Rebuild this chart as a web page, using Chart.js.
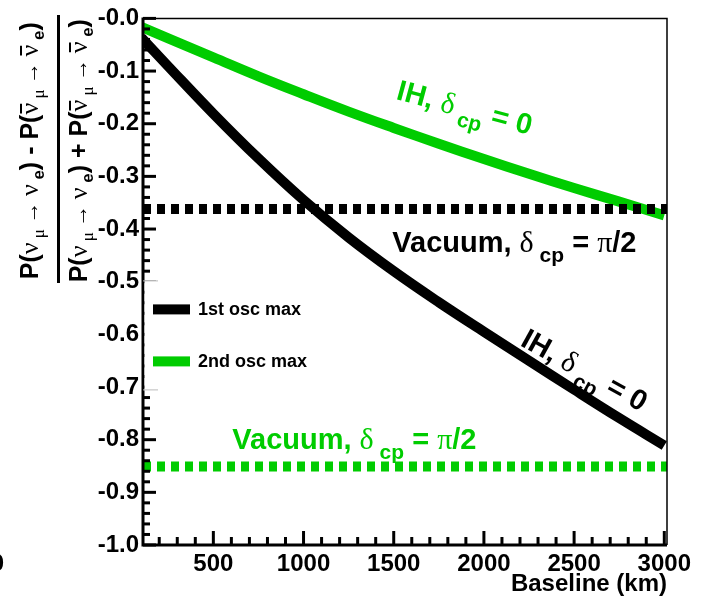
<!DOCTYPE html>
<html>
<head>
<meta charset="utf-8">
<script src="https://cdn.jsdelivr.net/npm/chart.js@4.4.0/dist/chart.umd.min.js"></script>
<style>
  html, body { margin: 0; padding: 0; background: #fff; }
  #wrap { width: 710px; height: 599px; position: relative; }
</style>
</head>
<body>
<div id="wrap"><canvas id="asymChart" width="710" height="599"></canvas></div>
<script>
// Datos (asimetría CP vs distancia)
const baselineKm = [100, 250, 500, 750, 1000, 1250, 1500, 1750, 2000, 2250, 2500, 2750, 3000];
const firstOscIH = [-0.036, -0.091, -0.181, -0.266, -0.345, -0.416, -0.480, -0.539, -0.595, -0.650, -0.705, -0.759, -0.811];
const secondOscIH = [-0.016, -0.038, -0.074, -0.110, -0.144, -0.177, -0.208, -0.238, -0.267, -0.295, -0.322, -0.348, -0.374];
const vacuumFirst = -0.362;
const vacuumSecond = -0.851;
const seriesLabels = ['1st osc max', '2nd osc max'];

const xTicks = [500, 1000, 1500, 2000, 2500, 3000];
const xTickLabels = ['500', '1000', '1500', '2000', '2500', '3000'];
const yTicks = [0, -0.1, -0.2, -0.3, -0.4, -0.5, -0.6, -0.7, -0.8, -0.9, -1.0];
const yTickLabels = ['-0.0', '-0.1', '-0.2', '-0.3', '-0.4', '-0.5', '-0.6', '-0.7', '-0.8', '-0.9', '-1.0'];
const X_MIN = 110, X_MAX = 3015;

const BLACK = '#000000';
const GREEN = '#00cc00';
const SANS = '"Liberation Sans", Arial, sans-serif';
const SERIF = '"Liberation Serif", "DejaVu Serif", serif';

// Texto con subíndices / símbolos: lista de trozos {t, f, dy, bar}
function drawRich(ctx, parts, x, y, angle, color, centered) {
    ctx.save();
    ctx.translate(x, y);
    ctx.rotate(angle);
    ctx.fillStyle = color;
    ctx.strokeStyle = color;
    ctx.textBaseline = 'alphabetic';
    ctx.textAlign = 'left';
    let total = 0;
    parts.forEach(p => { ctx.font = p.f; total += ctx.measureText(p.t).width; });
    let cx = centered ? -total / 2 : 0;
    parts.forEach(p => {
        ctx.font = p.f;
        const w = ctx.measureText(p.t).width;
        ctx.fillText(p.t, cx, p.dy || 0);
        if (p.bar) {
            ctx.lineWidth = 2;
            ctx.beginPath();
            ctx.moveTo(cx + 1, -p.bar);
            ctx.lineTo(cx + w - 1, -p.bar);
            ctx.stroke();
        }
        cx += w;
    });
    ctx.restore();
}

function deltaLabel(tail) {
    return [
        { t: tail[0], f: 'bold 29px ' + SANS },
        { t: 'δ', f: '30px ' + SERIF },
        { t: ' cp', f: 'bold 21px ' + SANS, dy: 10 },
        { t: ' = ', f: 'bold 29px ' + SANS },
        ...tail[1]
    ];
}

function fractionPart(op) {
    const B = 'bold 25px ' + SANS, S = '26px ' + SERIF, s = '17px ' + SERIF, b = 'bold 17px ' + SANS;
    const A = '22px ' + SERIF;
    return [
        { t: 'P(', f: B }, { t: 'ν', f: S }, { t: ' μ', f: s, dy: 6 }, { t: ' → ', f: A },
        { t: 'ν', f: S }, { t: ' e', f: b, dy: 6 }, { t: ') ' + op + ' P(', f: B },
        { t: 'ν', f: S, bar: 17 }, { t: ' μ', f: s, dy: 6 }, { t: ' → ', f: A },
        { t: 'ν', f: S, bar: 17 }, { t: ' e', f: b, dy: 6 }, { t: ')', f: B }
    ];
}

// Etiquetas sobre la gráfica, ancladas en coordenadas de datos
const annotations = [
    { x: 1509, y: -0.153, angle: 15, color: GREEN, parts: deltaLabel(['IH, ', [{ t: '0', f: 'bold 29px ' + SANS }]]) },
    { x: 2196, y: -0.620, angle: 29, color: BLACK, parts: deltaLabel(['IH, ', [{ t: '0', f: 'bold 29px ' + SANS }]]) },
    { x: 1492, y: -0.444, angle: 0, color: BLACK, parts: deltaLabel(['Vacuum, ', [{ t: 'π', f: '30px ' + SERIF }, { t: '/2', f: 'bold 29px ' + SANS }]]) },
    { x: 605, y: -0.817, angle: 0, color: GREEN, parts: deltaLabel(['Vacuum, ', [{ t: 'π', f: '30px ' + SERIF }, { t: '/2', f: 'bold 29px ' + SANS }]]) }
];

// Estilo tipo ROOT: ticks hacia dentro, marco, leyenda y textos
const rootStyle = {
    id: 'rootStyle',
    afterDatasetsDraw(chart) {
        const { ctx, chartArea: a, scales: { x, y } } = chart;
        ctx.save();

        // marco fino arriba y a la derecha
        ctx.strokeStyle = BLACK;
        ctx.lineWidth = 1.5;
        ctx.beginPath();
        ctx.moveTo(a.left, a.top);
        ctx.lineTo(a.right, a.top);
        ctx.lineTo(a.right, a.bottom);
        ctx.stroke();

        // ejes gruesos
        ctx.lineWidth = 3;
        ctx.beginPath();
        ctx.moveTo(a.left, a.top - 1);
        ctx.lineTo(a.left, a.bottom);
        ctx.lineTo(a.right, a.bottom);
        ctx.stroke();

        // ticks eje Y (mayores 0.1, menores 0.02)
        for (let i = 0; i < yTicks.length; i++) {
            const py = y.getPixelForValue(yTicks[i]);
            ctx.beginPath(); ctx.moveTo(a.left, py); ctx.lineTo(a.left + 13, py); ctx.stroke();
            if (i < yTicks.length - 1) {
                for (let k = 1; k < 5; k++) {
                    const v = yTicks[i] + (yTicks[i + 1] - yTicks[i]) * k / 5;
                    const pm = y.getPixelForValue(v);
                    ctx.beginPath(); ctx.moveTo(a.left, pm); ctx.lineTo(a.left + 7, pm); ctx.stroke();
                }
            }
        }
        // ticks eje X (mayores 500, menores 100)
        for (let v = Math.ceil(x.min / 100) * 100; v <= x.max; v += 100) {
            const px = x.getPixelForValue(v);
            const len = v % 500 === 0 ? 14 : 8;
            ctx.beginPath(); ctx.moveTo(px, a.bottom); ctx.lineTo(px, a.bottom - len); ctx.stroke();
        }

        // caja de la leyenda (tapa los ticks)
        const lt = a.top + 262, lb = a.top + 372;
        ctx.fillStyle = '#fff';
        ctx.fillRect(a.left + 1.5, lt, 200, lb - lt);
        ctx.strokeStyle = '#bbb';
        ctx.lineWidth = 1;
        ctx.beginPath();
        ctx.moveTo(a.left, lt + 0.5); ctx.lineTo(a.left + 15, lt + 0.5);
        ctx.moveTo(a.left, lb - 0.5); ctx.lineTo(a.left + 15, lb - 0.5);
        ctx.stroke();

        const legendItems = [chart.data.datasets[2], chart.data.datasets[3]];
        ctx.font = 'bold 18px ' + SANS;
        ctx.textBaseline = 'middle';
        legendItems.forEach((ds, i) => {
            const cy = a.top + 291 + i * 52;
            ctx.fillStyle = ds.borderColor;
            ctx.fillRect(a.left + 10, cy - 5, 37, 10);
            ctx.fillStyle = BLACK;
            ctx.fillText(ds.label, a.left + 55, cy + 1);
        });

        // etiquetas de las curvas
        annotations.forEach(an => {
            drawRich(ctx, an.parts, x.getPixelForValue(an.x), y.getPixelForValue(an.y),
                an.angle * Math.PI / 180, an.color, false);
        });

        // título del eje Y: fracción de probabilidades
        const midY = (a.top + 283) / 2;
        drawRich(ctx, fractionPart('-'), 38, midY, -Math.PI / 2, BLACK, true);
        drawRich(ctx, fractionPart('+'), 87, midY, -Math.PI / 2, BLACK, true);
        ctx.fillStyle = BLACK;
        ctx.fillRect(57, 15, 3, 268);

        // resto de la figura vecina, cortado en el borde
        ctx.font = 'bold 24px ' + SANS;
        ctx.textAlign = 'right';
        ctx.textBaseline = 'alphabetic';
        ctx.fillText('0', 4, 571);

        ctx.restore();
    }
};

const toPoints = (xs, ys) => xs.map((v, i) => ({ x: v, y: ys[i] }));
const lineStyle = (color, dashed) => ({
    borderColor: color,
    backgroundColor: color,
    borderWidth: 10,
    borderDash: dashed ? [8, 6] : [],
    borderCapStyle: 'butt',
    borderJoinStyle: 'round',
    pointRadius: 0,
    fill: false,
    clip: 0,
    tension: dashed ? 0 : 0.4
});

const tickFont = { family: SANS, weight: 'bold', size: 24 };

new Chart(document.getElementById('asymChart'), {
    type: 'line',
    data: {
        datasets: [
            { label: 'Vacuum 1st', data: toPoints([X_MIN, X_MAX], [vacuumFirst, vacuumFirst]), ...lineStyle(BLACK, true) },
            { label: 'Vacuum 2nd', data: toPoints([X_MIN, X_MAX], [vacuumSecond, vacuumSecond]), ...lineStyle(GREEN, true) },
            { label: seriesLabels[0], data: toPoints(baselineKm, firstOscIH), ...lineStyle(BLACK, false) },
            { label: seriesLabels[1], data: toPoints(baselineKm, secondOscIH), ...lineStyle(GREEN, false) }
        ]
    },
    options: {
        responsive: false,
        animation: false,
        devicePixelRatio: 1,
        layout: { padding: { left: 0, top: 17, right: 43, bottom: 0 } },
        plugins: { legend: { display: false }, tooltip: { enabled: false } },
        scales: {
            x: {
                type: 'linear',
                min: X_MIN,
                max: X_MAX,
                grid: { display: false, drawTicks: false },
                border: { display: false },
                afterBuildTicks: s => { s.ticks = xTicks.map(v => ({ value: v })); },
                afterFit: s => { s.height = 54; },
                ticks: {
                    color: BLACK, font: tickFont, padding: 5, maxRotation: 0, autoSkip: false,
                    callback: v => xTickLabels[xTicks.indexOf(v)]
                },
                title: {
                    display: true, text: 'Baseline (km)', align: 'end', color: BLACK,
                    font: tickFont, padding: { top: 0, bottom: 0 }
                }
            },
            y: {
                type: 'linear',
                min: -1,
                max: 0,
                grid: { display: false, drawTicks: false },
                border: { display: false },
                afterBuildTicks: s => { s.ticks = yTicks.map(v => ({ value: v })); },
                afterFit: s => { s.width = 143; },
                ticks: {
                    color: BLACK, font: tickFont, padding: 4, autoSkip: false,
                    callback: v => yTickLabels[Math.round(-v * 10)]
                }
            }
        }
    },
    plugins: [rootStyle]
});
</script>
</body>
</html>
